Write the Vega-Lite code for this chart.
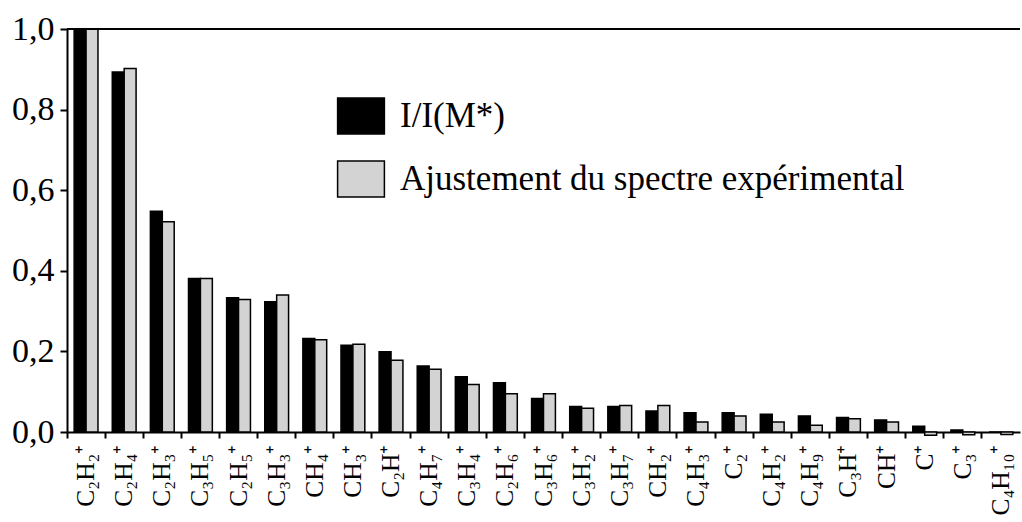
{
  "$schema": "https://vega.github.io/schema/vega-lite/v6.json",
  "width": 953,
  "height": 403,
  "autosize": {"type": "none"},
  "padding": {"left": 67, "top": 29, "right": 2, "bottom": 90},
  "background": "white",
  "config": {
    "view": {"stroke": null},
    "font": "Liberation Serif",
    "axis": {"labelFont": "Liberation Serif", "labelColor": "black", "domainColor": "black", "tickColor": "black", "domainWidth": 2, "tickWidth": 2, "grid": false, "title": null},
    "legend": {"labelFont": "Liberation Serif"}
  },
  "data": {
    "values": [
      {"ion": "C₂H₂⁺", "serie": "I/I(M*)", "valeur": 1.0},
      {"ion": "C₂H₂⁺", "serie": "Ajustement du spectre expérimental", "valeur": 1.0},
      {"ion": "C₂H₄⁺", "serie": "I/I(M*)", "valeur": 0.893},
      {"ion": "C₂H₄⁺", "serie": "Ajustement du spectre expérimental", "valeur": 0.902},
      {"ion": "C₂H₃⁺", "serie": "I/I(M*)", "valeur": 0.548},
      {"ion": "C₂H₃⁺", "serie": "Ajustement du spectre expérimental", "valeur": 0.522},
      {"ion": "C₃H₅⁺", "serie": "I/I(M*)", "valeur": 0.381},
      {"ion": "C₃H₅⁺", "serie": "Ajustement du spectre expérimental", "valeur": 0.381},
      {"ion": "C₂H₅⁺", "serie": "I/I(M*)", "valeur": 0.333},
      {"ion": "C₂H₅⁺", "serie": "Ajustement du spectre expérimental", "valeur": 0.329},
      {"ion": "C₃H₃⁺", "serie": "I/I(M*)", "valeur": 0.323},
      {"ion": "C₃H₃⁺", "serie": "Ajustement du spectre expérimental", "valeur": 0.34},
      {"ion": "CH₄⁺", "serie": "I/I(M*)", "valeur": 0.232},
      {"ion": "CH₄⁺", "serie": "Ajustement du spectre expérimental", "valeur": 0.229},
      {"ion": "CH₃⁺", "serie": "I/I(M*)", "valeur": 0.215},
      {"ion": "CH₃⁺", "serie": "Ajustement du spectre expérimental", "valeur": 0.218},
      {"ion": "C₂H⁺", "serie": "I/I(M*)", "valeur": 0.199},
      {"ion": "C₂H⁺", "serie": "Ajustement du spectre expérimental", "valeur": 0.178},
      {"ion": "C₄H₇⁺", "serie": "I/I(M*)", "valeur": 0.164},
      {"ion": "C₄H₇⁺", "serie": "Ajustement du spectre expérimental", "valeur": 0.156},
      {"ion": "C₃H₄⁺", "serie": "I/I(M*)", "valeur": 0.137},
      {"ion": "C₃H₄⁺", "serie": "Ajustement du spectre expérimental", "valeur": 0.118},
      {"ion": "C₂H₆⁺", "serie": "I/I(M*)", "valeur": 0.122},
      {"ion": "C₂H₆⁺", "serie": "Ajustement du spectre expérimental", "valeur": 0.095},
      {"ion": "C₃H₆⁺", "serie": "I/I(M*)", "valeur": 0.083},
      {"ion": "C₃H₆⁺", "serie": "Ajustement du spectre expérimental", "valeur": 0.095},
      {"ion": "C₃H₂⁺", "serie": "I/I(M*)", "valeur": 0.063},
      {"ion": "C₃H₂⁺", "serie": "Ajustement du spectre expérimental", "valeur": 0.059},
      {"ion": "C₃H₇⁺", "serie": "I/I(M*)", "valeur": 0.063},
      {"ion": "C₃H₇⁺", "serie": "Ajustement du spectre expérimental", "valeur": 0.066},
      {"ion": "CH₂⁺", "serie": "I/I(M*)", "valeur": 0.052},
      {"ion": "CH₂⁺", "serie": "Ajustement du spectre expérimental", "valeur": 0.066},
      {"ion": "C₄H₃⁺", "serie": "I/I(M*)", "valeur": 0.048},
      {"ion": "C₄H₃⁺", "serie": "Ajustement du spectre expérimental", "valeur": 0.025},
      {"ion": "C₂⁺", "serie": "I/I(M*)", "valeur": 0.048},
      {"ion": "C₂⁺", "serie": "Ajustement du spectre expérimental", "valeur": 0.04},
      {"ion": "C₄H₂⁺", "serie": "I/I(M*)", "valeur": 0.044},
      {"ion": "C₄H₂⁺", "serie": "Ajustement du spectre expérimental", "valeur": 0.025},
      {"ion": "C₄H₉⁺", "serie": "I/I(M*)", "valeur": 0.04},
      {"ion": "C₄H₉⁺", "serie": "Ajustement du spectre expérimental", "valeur": 0.017},
      {"ion": "C₃H⁺", "serie": "I/I(M*)", "valeur": 0.036},
      {"ion": "C₃H⁺", "serie": "Ajustement du spectre expérimental", "valeur": 0.033},
      {"ion": "CH⁺", "serie": "I/I(M*)", "valeur": 0.03},
      {"ion": "CH⁺", "serie": "Ajustement du spectre expérimental", "valeur": 0.025},
      {"ion": "C⁺", "serie": "I/I(M*)", "valeur": 0.014},
      {"ion": "C⁺", "serie": "Ajustement du spectre expérimental", "valeur": -0.008},
      {"ion": "C₃⁺", "serie": "I/I(M*)", "valeur": 0.005},
      {"ion": "C₃⁺", "serie": "Ajustement du spectre expérimental", "valeur": -0.007},
      {"ion": "C₄H₁₀⁺", "serie": "I/I(M*)", "valeur": 0.0},
      {"ion": "C₄H₁₀⁺", "serie": "Ajustement du spectre expérimental", "valeur": -0.006}
    ]
  },
  "layer": [
    {
      "mark": {"type": "bar", "stroke": "black", "strokeWidth": 1.5},
      "encoding": {
        "x": {
          "field": "ion", "type": "nominal", "sort": null,
          "scale": {"paddingInner": 0, "paddingOuter": 0},
          "axis": {"bandPosition": 0, "labelOffset": 0, "labelAngle": -90, "labelFontSize": 25.5, "labelPadding": 6, "tickSize": 6, "labelBaseline": "middle", "labelAlign": "right"}
        },
        "xOffset": {
          "field": "serie", "type": "nominal",
          "sort": ["I/I(M*)", "Ajustement du spectre expérimental"],
          "scale": {"paddingOuter": 0.6, "paddingInner": 0}
        },
        "y": {
          "field": "valeur", "type": "quantitative",
          "scale": {"domain": [0, 1], "nice": false},
          "axis": {"values": [0, 0.2, 0.4, 0.6, 0.8, 1.0], "labelExpr": "replace(format(datum.value, '.1f'), '.', ',')", "labelFontSize": 34, "tickSize": 7, "labelPadding": 6}
        },
        "color": {
          "field": "serie", "type": "nominal",
          "scale": {"domain": ["I/I(M*)", "Ajustement du spectre expérimental"], "range": ["#000000", "#d3d3d3"]},
          "legend": {
            "title": null, "orient": "none", "legendX": 275, "legendY": 68, "padding": 0,
            "symbolType": "M-1.3,-1H1.3V1H-1.3Z", "symbolSize": 1296,
            "symbolStrokeColor": "black", "symbolStrokeWidth": 1.5,
            "labelFontSize": 35, "labelColor": "black", "labelOffset": 20,
            "rowPadding": 21, "labelLimit": 700
          }
        }
      }
    },
    {
      "mark": {"type": "rule", "color": "black", "strokeWidth": 2},
      "encoding": {"y": {"datum": 1}}
    }
  ]
}
